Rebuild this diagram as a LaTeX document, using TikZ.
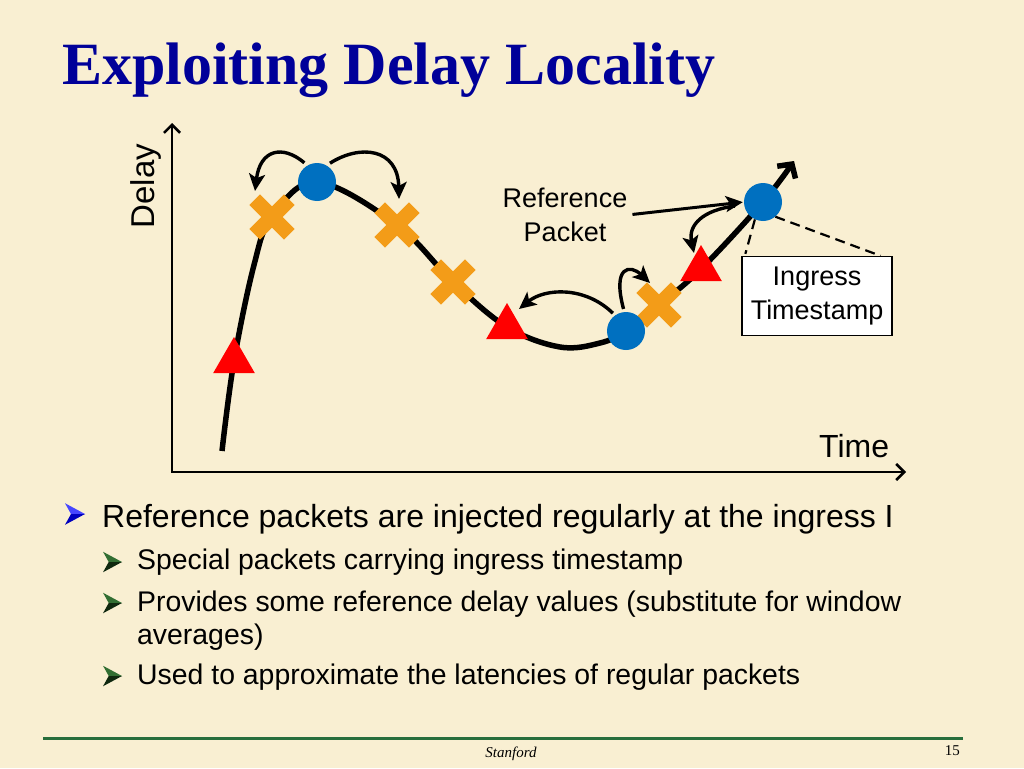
\documentclass[tikz,border=0pt]{standalone}
\usepackage{fontspec}
\setmainfont{Liberation Serif}
\setsansfont{Liberation Sans}
\usetikzlibrary{arrows.meta,shapes.geometric,calc}
\definecolor{bg}{RGB}{249,239,210}
\definecolor{titleblue}{RGB}{0,0,153}
\definecolor{mblue}{RGB}{0,112,192}
\definecolor{morange}{RGB}{243,156,24}
\definecolor{mred}{RGB}{255,0,0}
\definecolor{fgreen}{RGB}{40,110,60}
\definecolor{bltop}{RGB}{70,70,255}
\definecolor{blbot}{RGB}{0,0,190}
\definecolor{grtop}{RGB}{50,110,50}
\definecolor{grbot}{RGB}{15,40,15}
\tikzset{
  refpkt/.style={circle,fill=mblue,minimum size=38pt,inner sep=0pt},
  regtri/.style={regular polygon,regular polygon sides=3,fill=mred,minimum size=48pt,inner sep=0pt},
  curvearrow/.style={line width=3.4pt,-{Stealth[length=17pt,width=16pt,inset=4pt]}},
  axisline/.style={line width=2.6pt,{Straight Barb[length=8pt,width=16pt]}-{Straight Barb[length=8pt,width=16pt]}},
  lbl/.style={font=\sffamily\fontsize{27}{34}\selectfont,align=center,inner sep=0pt},
  bullettext/.style={anchor=base west,inner sep=0pt,font=\sffamily\fontsize{28.4}{34}\selectfont},
  pics/xmark/.style={code={
    \fill[morange,rotate=45] (-24.5,-7.5) rectangle (24.5,7.5);
    \fill[morange,rotate=-45] (-24.5,-7.5) rectangle (24.5,7.5);}},
  pics/hbullet/.style n args={3}{code={
    \fill[#2] (0,0) -- (-#1,-0.54*#1) -- (-0.7*#1,0) -- cycle;
    \fill[#3] (0,0) -- (-0.7*#1,0) -- (-#1,0.54*#1) -- cycle;}},
}
\begin{document}
\begin{tikzpicture}[x=1pt,y=-1pt]
\fill[bg] (0,0) rectangle (1024,768);
\useasboundingbox (0,0) rectangle (1024,768);

% title
\node[anchor=base west,inner sep=0pt,text=titleblue,font=\bfseries\fontsize{60}{70}\selectfont] (title) at (62,84) {Exploiting Delay Locality};

% axes
\coordinate (ytop) at (172,123);
\coordinate (orig) at (172,472);
\coordinate (xend) at (906,472);
\draw[axisline] (ytop) -- (orig) -- (xend);
\node[rotate=90,inner sep=0pt,font=\sffamily\fontsize{33}{40}\selectfont] (dlab) at (146,186) {Delay};
\node[anchor=base west,inner sep=0pt,font=\sffamily\fontsize{32}{40}\selectfont] (tlab) at (819,457) {Time};

% curve points
\coordinate (p0) at (222,451);
\coordinate (t1c) at (234,361);
\coordinate (pa) at (254,265);
\coordinate (x1) at (272,217);
\coordinate (c1c) at (317,182);
\coordinate (x2) at (397,225);
\coordinate (x3) at (453,282);
\coordinate (t2c) at (507,327);
\coordinate (pb) at (560,347);
\coordinate (pc) at (600,343);
\coordinate (c2c) at (626,331);
\coordinate (x4) at (659,305);
\coordinate (t3c) at (701,269);
\coordinate (c3c) at (763,202);
\coordinate (pend) at (794,161);

\draw[line width=5.5pt,-{Straight Barb[length=10pt,width=22pt]}]
  plot[smooth,tension=0.6] coordinates {(p0) (t1c) (pa) (x1) (c1c) (x2) (x3) (t2c) (pb) (pc) (c2c) (x4) (t3c) (c3c) (pend)};

% markers
\pic at (x1) {xmark};
\pic at (x2) {xmark};
\pic at (x3) {xmark};
\pic at (x4) {xmark};
\node[regtri] (t1) at (t1c) {};
\node[regtri] (t2) at (t2c) {};
\node[regtri] (t3) at (t3c) {};
\node[refpkt] (c1) at (c1c) {};
\node[refpkt] (c2) at (c2c) {};
\node[refpkt] (c3) at (c3c) {};

% labels
\node[lbl] (refl) at (565,215) {Reference\\Packet};
\node[lbl,draw,line width=1.3pt,fill=white,minimum width=150pt,minimum height=79pt] (ibox) at (817,296) {Ingress\\Timestamp};

% dashed leaders
\draw[line width=2.2pt,dash pattern=on 10pt off 6pt] (c3.245) -- ($(ibox.north west)+(4,-2)$);
\draw[line width=2.2pt,dash pattern=on 10pt off 6pt] (c3.-50) -- ($(ibox.north east)+(-12,0)$);

% curved arrows
\coordinate (a1e) at (255,191);
\coordinate (a2e) at (399,199);
\coordinate (a3e) at (519,309);
\coordinate (a4e) at (650,283);
\coordinate (a5s) at (735,206);
\coordinate (a5e) at (694,253);
\draw[curvearrow,shorten <=4pt] (c1.120) .. controls (282,144) and (260,150) .. (a1e);
\draw[curvearrow,shorten <=4pt] (c1.60) .. controls (360,144) and (398,148) .. (a2e);
\draw[curvearrow,shorten <=3pt] (c2.125) .. controls (585,286) and (545,288) .. (a3e);
\draw[curvearrow,shorten <=3pt] (c2.95) .. controls (612,266) and (630,264) .. (a4e);
\draw[curvearrow] (a5s) .. controls (703,210) and (688,225) .. (a5e);
\draw[curvearrow,line width=3pt,shorten <=5pt,shorten >=1pt] (refl.east) -- (c3.180);

% bullets
\pic at (85,514) {hbullet={20}{bltop}{blbot}};
\node[bullettext,font=\sffamily\fontsize{32}{38}\selectfont] (b1) at (102,527) {Reference packets are injected regularly at the ingress I};
\pic at (122,562) {hbullet={19}{grtop}{grbot}};
\node[bullettext] (b2) at (137,569) {Special packets carrying ingress timestamp};
\pic at (122,603) {hbullet={19}{grtop}{grbot}};
\node[bullettext] (b3) at (137,611) {Provides some reference delay values (substitute for window};
\node[bullettext] (b3b) at (137,644) {averages)};
\pic at (122,676) {hbullet={19}{grtop}{grbot}};
\node[bullettext] (b4) at (137,684) {Used to approximate the latencies of regular packets};

% footer
\coordinate (fl) at (43,738);
\coordinate (fr) at (963,738);
\draw[fgreen,line width=3pt] (fl) -- (fr);
\node[anchor=base,inner sep=0pt,font=\itshape\fontsize{15}{18}\selectfont] (foot) at (511,757) {Stanford};
\node[anchor=base east,inner sep=0pt,font=\fontsize{15}{18}\selectfont] (pnum) at (960,755) {15};
\end{tikzpicture}
\end{document}
